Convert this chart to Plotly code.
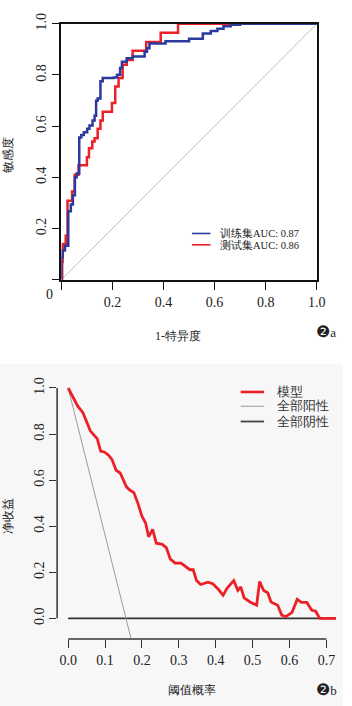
import plotly.graph_objects as go

# ---------------- data ----------------
# ROC (panel a)
train_fpr = [0, 0, 0.005, 0.014, 0.027, 0.037, 0.045, 0.053, 0.06, 0.07, 0.078, 0.088, 0.101,
             0.11, 0.122, 0.13, 0.136, 0.142, 0.153, 0.162, 0.205, 0.218, 0.23, 0.237, 0.256,
             0.279, 0.326, 0.335, 0.345, 0.408, 0.5, 0.554, 0.585, 0.611, 0.635, 0.663, 0.70, 1.0]
train_tpr = [0, 0.088, 0.114, 0.133, 0.268, 0.294, 0.33, 0.40, 0.415, 0.556, 0.566, 0.576, 0.59,
             0.603, 0.622, 0.641, 0.699, 0.708, 0.776, 0.788, 0.79, 0.801, 0.827, 0.852, 0.865,
             0.872, 0.891, 0.904, 0.923, 0.932, 0.942, 0.962, 0.972, 0.981, 0.99, 0.996, 1.0, 1.0]
test_fpr = [0, 0.003, 0.005, 0.017, 0.024, 0.042, 0.052, 0.067, 0.10, 0.108, 0.121, 0.13, 0.142,
            0.153, 0.162, 0.198, 0.211, 0.224, 0.24, 0.256, 0.279, 0.332, 0.389, 0.457, 1.0]
test_tpr = [0, 0.07, 0.14, 0.172, 0.309, 0.345, 0.41, 0.447, 0.479, 0.514, 0.54, 0.553, 0.59,
            0.622, 0.656, 0.691, 0.755, 0.788, 0.84, 0.859, 0.895, 0.929, 0.965, 1.0, 1.0]
diag = [0, 1]
train_label = "训练集AUC: 0.87"
test_label = "测试集AUC: 0.86"
roc_ticks = [0, 0.2, 0.4, 0.6, 0.8, 1.0]
roc_ticktext = ["", "0.2", "0.4", "0.6", "0.8", "1.0"]

# Decision curve (panel b)
dca_thr = [0, 0.013, 0.026, 0.04, 0.048, 0.06, 0.079, 0.088, 0.099, 0.11, 0.119, 0.13, 0.141,
           0.158, 0.167, 0.178, 0.189, 0.2, 0.21, 0.218, 0.229, 0.239, 0.255, 0.266, 0.277,
           0.29, 0.306, 0.319, 0.33, 0.339, 0.348, 0.359, 0.379, 0.392, 0.407, 0.42, 0.431,
           0.449, 0.46, 0.468, 0.477, 0.493, 0.511, 0.519, 0.53, 0.541, 0.55, 0.568, 0.579,
           0.59, 0.607, 0.621, 0.632, 0.647, 0.66, 0.671, 0.682, 0.726]
dca_model = [1.0, 0.957, 0.921, 0.893, 0.864, 0.814, 0.779, 0.726, 0.721, 0.707, 0.689, 0.643,
             0.631, 0.571, 0.557, 0.546, 0.5, 0.443, 0.414, 0.354, 0.386, 0.326, 0.321, 0.307,
             0.257, 0.24, 0.24, 0.226, 0.211, 0.211, 0.164, 0.147, 0.157, 0.15, 0.126, 0.1,
             0.131, 0.164, 0.121, 0.136, 0.089, 0.071, 0.057, 0.16, 0.121, 0.111, 0.071, 0.057,
             0.014, 0.007, 0.026, 0.083, 0.069, 0.069, 0.036, 0.031, 0.0, 0.0]
all_thr = [0, 0.17]
all_pos = [1.0, -0.085]
none_thr = [0, 0.726]
none_nb = [0, 0]
dca_xticks = [0, 0.1, 0.2, 0.3, 0.4, 0.5, 0.6, 0.7]
dca_xticktext = ["0.0", "0.1", "0.2", "0.3", "0.4", "0.5", "0.6", "0.7"]
dca_yticks = [0, 0.2, 0.4, 0.6, 0.8, 1.0]
dca_yticktext = ["0.0", "0.2", "0.4", "0.6", "0.8", "1.0"]
dca_names = ["模型", "全部阳性", "全部阴性"]

# ---------------- styling ----------------
W, H = 352, 706
BLUE = "#2b3a9c"
RED = "#ec2027"
SERIF = "Liberation Serif"


def px(x):
    return x / W


def py(y):
    return 1 - y / H


fig = go.Figure()

# panel a
fig.add_trace(go.Scatter(x=diag, y=diag, mode="lines", line=dict(color="#b5b5b5", width=0.9),
                         xaxis="x", yaxis="y", showlegend=False, hoverinfo="skip"))
fig.add_trace(go.Scatter(x=test_fpr, y=test_tpr, mode="lines", line=dict(color=RED, width=2.5, shape="hv"),
                         xaxis="x", yaxis="y", showlegend=False))
fig.add_trace(go.Scatter(x=train_fpr, y=train_tpr, mode="lines", line=dict(color=BLUE, width=2.5, shape="hv"),
                         xaxis="x", yaxis="y", showlegend=False))

# panel b
fig.add_trace(go.Scatter(x=none_thr, y=none_nb, mode="lines", line=dict(color="#333333", width=1.6),
                         xaxis="x2", yaxis="y2", showlegend=False))
fig.add_trace(go.Scatter(x=all_thr, y=all_pos, mode="lines", line=dict(color="#9a9a9a", width=1),
                         xaxis="x2", yaxis="y2", showlegend=False))
fig.add_trace(go.Scatter(x=dca_thr, y=dca_model, mode="lines", line=dict(color=RED, width=2.8),
                         xaxis="x2", yaxis="y2", showlegend=False))

tickfont = dict(family=SERIF, size=14, color="#222222")

fig.update_layout(
    width=W, height=H, margin=dict(l=0, r=0, t=0, b=0),
    font=dict(family=SERIF),
    paper_bgcolor="white", plot_bgcolor="rgba(0,0,0,0)",
    xaxis=dict(domain=[px(63), px(325)], range=[0, 1], anchor="y",
               showline=True, mirror=True, linecolor="#111111", linewidth=1.5,
               ticks="outside", ticklen=9, tickwidth=1.2, tickcolor="#111111",
               tickvals=roc_ticks, ticktext=roc_ticktext, tickfont=tickfont,
               showgrid=False, zeroline=False),
    yaxis=dict(domain=[py(273), py(13)], range=[0, 1], anchor="x",
               showline=True, mirror=True, linecolor="#111111", linewidth=1.5,
               ticks="outside", ticklen=8, tickwidth=1.2, tickcolor="#111111",
               tickvals=roc_ticks, ticktext=roc_ticktext, tickfont=tickfont, tickangle=-90,
               showgrid=False, zeroline=False),
    xaxis2=dict(domain=[px(58.6), px(346.3)], range=[-0.03, 0.73], anchor="y2",
                showline=False, ticks="outside", ticklen=8, tickwidth=1.2, tickcolor="#333333",
                tickvals=dca_xticks, ticktext=dca_xticktext, tickfont=tickfont,
                showgrid=False, zeroline=False),
    yaxis2=dict(domain=[py(638), py(373.6)], range=[-0.09, 1.04], anchor="x2",
                showline=False, ticks="outside", ticklen=7, tickwidth=1.2, tickcolor="#333333",
                tickvals=dca_yticks, ticktext=dca_yticktext, tickfont=tickfont, tickangle=-90,
                showgrid=False, zeroline=False),
)

shapes = [
    # light background of panel b
    dict(type="rect", xref="paper", yref="paper", x0=0, x1=1, y0=0, y1=py(358),
         fillcolor="#f7f7f7", line=dict(width=0), layer="below"),
    # R-style axis lines of panel b
    dict(type="line", xref="x2 domain", yref="y2", x0=0, x1=0, y0=0, y1=1,
         line=dict(color="#333333", width=1.5)),
    dict(type="line", xref="x2", yref="y2 domain", x0=0, x1=0.7, y0=0, y1=0,
         line=dict(color="#333333", width=1.5)),
    # legend a
    dict(type="line", xref="paper", yref="paper", x0=px(197), x1=px(216), y0=py(226), y1=py(226),
         line=dict(color=BLUE, width=1.6)),
    dict(type="line", xref="paper", yref="paper", x0=px(197), x1=px(216), y0=py(237.5), y1=py(237.5),
         line=dict(color=RED, width=1.6)),
    # legend b
    dict(type="line", xref="paper", yref="paper", x0=px(247), x1=px(271), y0=py(387), y1=py(387),
         line=dict(color=RED, width=2.6)),
    dict(type="line", xref="paper", yref="paper", x0=px(247), x1=px(271), y0=py(401.5), y1=py(401.5),
         line=dict(color="#9a9a9a", width=1)),
    dict(type="line", xref="paper", yref="paper", x0=px(247), x1=px(271), y0=py(417), y1=py(417),
         line=dict(color="#444444", width=1.8)),
]

ann = []


def text(x, y, s, size=12, xanchor="center", angle=0, family=SERIF, color="#222222"):
    ann.append(dict(xref="paper", yref="paper", x=px(x), y=py(y), text=s, showarrow=False,
                    xanchor=xanchor, yanchor="middle", textangle=angle,
                    font=dict(family=family, size=size, color=color)))


# panel a texts
text(51, 288, "0", size=14)
text(183, 330, "1-特异度", size=12)
text(8, 146, "敏感度", size=12, angle=-90)
text(224, 226, train_label, size=10.5, xanchor="left")
text(224, 237.5, test_label, size=10.5, xanchor="left")
text(335, 326, "<span style='font-family:DejaVu Sans;font-size:16px'>❷</span>a", size=13)

# panel b texts
text(197, 690, "阈值概率", size=12)
text(8, 513, "净收益", size=12, angle=-90)
for i, nm in enumerate(dca_names):
    text(282, [387, 401.5, 417][i], nm, size=12.5, xanchor="left", color="#333333")
text(335, 689, "<span style='font-family:DejaVu Sans;font-size:16px'>❷</span>b", size=13)

fig.update_layout(shapes=shapes, annotations=ann)
fig.write_html("out.html", config={"displayModeBar": False},
               post_script="document.body.style.margin='0px';document.body.style.padding='0px';")
